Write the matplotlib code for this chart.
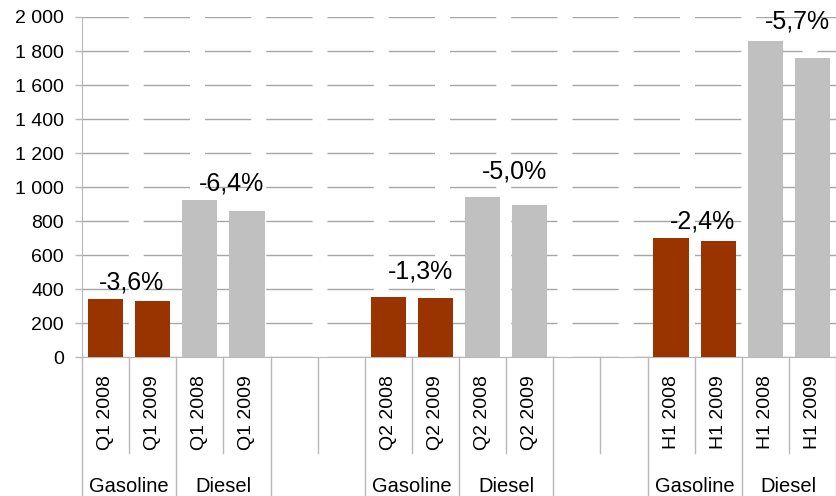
import matplotlib
matplotlib.use("Agg")
import matplotlib.pyplot as plt
from matplotlib.ticker import FuncFormatter, MultipleLocator
import matplotlib.transforms as mtransforms

plt.rcParams['font.family'] = ['Liberation Sans', 'DejaVu Sans']

# ---- data ----
periods = ["Q1", "Q2", "H1"]
years = ["2008", "2009"]
fuels = ["Gasoline", "Diesel"]
gasoline_2008 = [343, 355, 702]
gasoline_2009 = [331, 349, 686]
diesel_2008 = [925, 943, 1861]
diesel_2009 = [862, 896, 1761]
gasoline_change = ["-3,6%", "-1,3%", "-2,4%"]
diesel_change = ["-6,4%", "-5,0%", "-5,7%"]

GAS_COLOR = "#993300"
DIE_COLOR = "#c0c0c0"
GRID_COLOR = "#a6a6a6"
AX_COLOR = "#b8b8b8"

fig = plt.figure(figsize=(8.36, 4.96), dpi=100)
H = 496.0
W = 836.0
y0_px, y1_px = 357.3, 17.0
x0_px, x1_px = 82.0, 836.0
ax = fig.add_axes([x0_px / W, (H - y0_px) / H, (x1_px - x0_px) / W, (y0_px - y1_px) / H])

n_slots = 16
ax.set_xlim(0, n_slots)
ax.set_ylim(0, 2000)

bar_w = 0.75
tick_pos = []
tick_lab = []
for p, per in enumerate(periods):
    base = p * 6
    vals = [gasoline_2008[p], gasoline_2009[p], diesel_2008[p], diesel_2009[p]]
    cols = [GAS_COLOR, GAS_COLOR, DIE_COLOR, DIE_COLOR]
    for j in range(4):
        ax.bar(base + j + 0.5, vals[j], width=bar_w, color=cols[j], zorder=3)
        tick_pos.append(base + j + 0.5)
        tick_lab.append(f"{per} {years[j % 2]}")

# change labels
gas_off = [7, 13.5, 6.5]
die_off = [7, 13.5, 8.5]
for p in range(len(periods)):
    base = p * 6
    gx = base + 1.0
    dx = base + 3.0
    ax.annotate(gasoline_change[p], (gx, max(gasoline_2008[p], gasoline_2009[p])),
                xytext=(6 if p else 1.5, gas_off[p]), textcoords="offset points",
                ha="center", va="baseline", fontsize=18, zorder=5)
    ax.annotate(diesel_change[p], (dx, max(diesel_2008[p], diesel_2009[p])),
                xytext=(6, die_off[p]), textcoords="offset points",
                ha="center", va="baseline", fontsize=18, zorder=5)

# y axis
ax.yaxis.set_major_locator(MultipleLocator(200))
ax.yaxis.set_major_formatter(FuncFormatter(lambda v, _: f"{v:,.0f}".replace(",", " ")))
ax.tick_params(axis="y", length=5, width=1, color=AX_COLOR, labelsize=14, pad=8)
ax.grid(axis="y", color=GRID_COLOR, linewidth=1.0, linestyle=(0, (33.3, 10.8)), zorder=0)
ax.set_axisbelow(True)

# x axis
ax.set_xticks(tick_pos)
ax.set_xticklabels(tick_lab, rotation=90, fontsize=14)
ax.tick_params(axis="x", length=0, pad=13)

for s in ["top", "right"]:
    ax.spines[s].set_visible(False)
ax.spines["left"].set_color(AX_COLOR)
ax.spines["bottom"].set_color(AX_COLOR)

# separators below axis
trans = mtransforms.blended_transform_factory(ax.transData, ax.transAxes)
short_bot = (y0_px - 453) / (y0_px - y1_px)
long_bot = (y0_px - 500) / (y0_px - y1_px)
long_lines = {0, 2, 4, 6, 8, 10, 12, 14, 16}
for b in range(0, n_slots + 1):
    if b in (5, 11):
        bot = short_bot
    elif b in long_lines:
        bot = long_bot
    else:
        bot = short_bot
    ax.plot([b, b], [0, bot], transform=trans, color=AX_COLOR, linewidth=1.0,
            clip_on=False, zorder=1)

# group labels
grp_y = (y0_px - 487) / (y0_px - y1_px)
for p in range(len(periods)):
    base = p * 6
    for f, fuel in enumerate(fuels):
        ax.text(base + 1.0 + 2 * f, grp_y, fuel, transform=trans, ha="center",
                va="center", fontsize=14.5)

fig.savefig("out.png", dpi=100)
